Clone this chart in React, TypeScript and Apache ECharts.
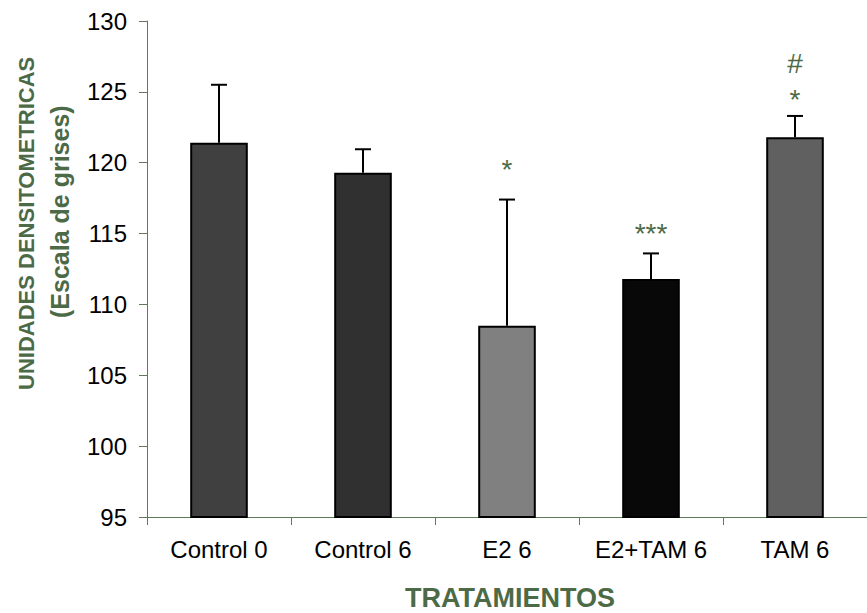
import React, { useEffect, useRef } from "react";
import * as echarts from "echarts";

const categories = ["Control 0", "Control 6", "E2 6", "E2+TAM 6", "TAM 6"];
const means = [121.4, 119.3, 108.5, 111.8, 121.8];
const errors = [4.1, 1.65, 8.9, 1.8, 1.5];
const barColors = ["#404040", "#303030", "#808080", "#080808", "#606060"];
const yTicks = [95, 100, 105, 110, 115, 120, 125, 130];

const annotationCats = [2, 3, 4, 4];
const annotationTexts = ["*", "***", "*", "#"];
const annotationValues = [119.5, 115.0, 124.45, 127.0];

const GREEN = "#4d6a47";
const AXIS = "#60795b";
const FONT = "'Liberation Sans', Arial, sans-serif";

export default function App() {
  const ref = useRef<HTMLDivElement>(null);
  useEffect(() => {
    const chart = echarts.init(ref.current!, null, { renderer: "svg" });
    const option: any = {
      animation: false,
      backgroundColor: "#ffffff",
      grid: { left: 147, top: 21, height: 496, width: 733 },
      xAxis: {
        type: "category",
        data: categories,
        axisLine: { lineStyle: { color: AXIS, width: 1 } },
        axisTick: { show: true, length: 8, lineStyle: { color: AXIS } },
        axisLabel: {
          color: "#000",
          fontSize: 24,
          fontFamily: FONT,
          margin: 20,
          interval: 0,
          hideOverlap: false,
        },
      },
      yAxis: {
        type: "value",
        min: yTicks[0],
        max: yTicks[yTicks.length - 1],
        interval: 5,
        splitLine: { show: false },
        axisLine: { show: true, lineStyle: { color: AXIS, width: 1 } },
        axisTick: { show: true, length: 8, lineStyle: { color: AXIS } },
        axisLabel: { color: "#000", fontSize: 24, fontFamily: FONT, margin: 20 },
      },
      series: [
        {
          type: "bar",
          barWidth: "40%",
          data: means.map((v, i) => ({
            value: v,
            itemStyle: { color: barColors[i], borderColor: "#000", borderWidth: 2 },
          })),
          z: 2,
        },
        {
          type: "custom",
          z: 3,
          clip: false,
          data: means.map((v, i) => [i, v, errors[i]]),
          renderItem: (params: any, api: any) => {
            const x = api.value(0);
            const y = api.value(1);
            const e = api.value(2);
            const base = api.coord([x, y]);
            const top = api.coord([x, y + e]);
            const cap = 8;
            return {
              type: "group",
              children: [
                {
                  type: "line",
                  shape: { x1: base[0], y1: base[1], x2: top[0], y2: top[1] },
                  style: { stroke: "#000", lineWidth: 2 },
                },
                {
                  type: "line",
                  shape: { x1: top[0] - cap, y1: top[1], x2: top[0] + cap, y2: top[1] },
                  style: { stroke: "#000", lineWidth: 2 },
                },
              ],
            };
          },
        },
        {
          type: "custom",
          z: 4,
          clip: false,
          data: annotationCats.map((c, i) => [c, annotationValues[i], annotationTexts[i]]),
          renderItem: (params: any, api: any) => {
            const i = params.dataIndex;
            const p = api.coord([annotationCats[i], annotationValues[i]]);
            const t = annotationTexts[i];
            return {
              type: "text",
              x: p[0],
              y: p[1],
              style: {
                text: t,
                fill: GREEN,
                font: `28px ${FONT}`,
                align: "center",
                verticalAlign: "middle",
              },
            };
          },
        },
      ],
      graphic: [
        {
          type: "text",
          x: 26,
          y: 390,
          rotation: Math.PI / 2,
          style: {
            text: "UNIDADES DENSITOMETRICAS",
            fill: GREEN,
            font: `bold 22px ${FONT}`,
            align: "left",
            verticalAlign: "middle",
          },
        },
        {
          type: "text",
          x: 60,
          y: 318,
          rotation: Math.PI / 2,
          style: {
            text: "(Escala de grises)",
            fill: GREEN,
            font: `bold 25px ${FONT}`,
            align: "left",
            verticalAlign: "middle",
          },
        },
        {
          type: "text",
          x: 510,
          y: 598,
          style: {
            text: "TRATAMIENTOS",
            fill: GREEN,
            font: `bold 27px ${FONT}`,
            align: "center",
            verticalAlign: "middle",
          },
        },
      ],
    };
    chart.setOption(option);
    return () => chart.dispose();
  }, []);
  return (
    <div
      ref={ref}
      style={{ position: "absolute", left: 0, top: 0, width: 867, height: 613 }}
    />
  );
}
